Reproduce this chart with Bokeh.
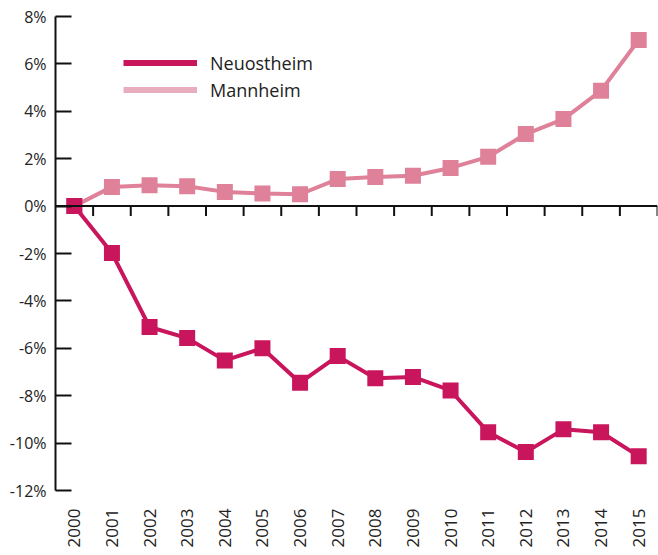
import math
from bokeh.plotting import figure
from bokeh.models import (Range1d, FixedTicker, Span, Legend, LegendItem,
                          CustomJSTickFormatter)
from bokeh.embed import file_html
from bokeh.resources import INLINE

years = list(range(2000, 2016))
neuostheim = [0.0, -1.98, -5.10, -5.57, -6.51, -6.00, -7.45, -6.33,
              -7.26, -7.21, -7.78, -9.54, -10.38, -9.42, -9.54, -10.55]
mannheim = [0.0, 0.81, 0.88, 0.84, 0.60, 0.53, 0.50, 1.14,
            1.23, 1.28, 1.61, 2.08, 3.04, 3.67, 4.87, 7.01]
y_ticks = [-12, -10, -8, -6, -4, -2, 0, 2, 4, 6, 8]

C_NEU = "#c8155c"
C_MAN = "#de8199"
C_MAN_LEG = "#e8aebe"
FONT = "Open Sans"

p = figure(width=658, height=555, output_backend="svg", toolbar_location=None,
           x_range=Range1d(years[0] - 0.5, years[-1] + 0.5),
           y_range=Range1d(y_ticks[0], y_ticks[-1]),
           min_border_left=55, min_border_right=1, min_border_top=16,
           min_border_bottom=65)
p.outline_line_color = None
p.grid.visible = False
p.background_fill_color = "white"
p.border_fill_color = "white"

# y axis
ya = p.yaxis[0]
ya.ticker = FixedTicker(ticks=y_ticks)
ya.formatter = CustomJSTickFormatter(code="return tick + '%';")
ya.major_tick_in = 16
ya.major_tick_out = 0
ya.minor_tick_line_color = None
ya.axis_line_width = 2
ya.major_tick_line_width = 2
ya.axis_line_color = "#111111"
ya.major_tick_line_color = "#111111"
ya.major_label_text_font = FONT
ya.major_label_text_font_size = "16px"
ya.major_label_text_color = "#222222"
ya.major_label_standoff = 9

# x axis: labels only at bottom
xa = p.xaxis[0]
xa.ticker = FixedTicker(ticks=years)
xa.major_label_overrides = {y: str(y) for y in years}
xa.axis_line_color = None
xa.major_tick_line_color = None
xa.minor_tick_line_color = None
xa.major_tick_in = 0
xa.major_tick_out = 0
xa.major_label_orientation = math.pi / 2
xa.major_label_standoff = 18
xa.major_label_text_font = FONT
xa.major_label_text_font_size = "17px"
xa.major_label_text_color = "#222222"

# zero line with tick marks between years
p.add_layout(Span(location=0, dimension="width", line_color="#111111", line_width=2))
tick_x = [y + 0.5 for y in years]
p.segment(x0=tick_x, y0=[0] * len(tick_x), x1=tick_x, y1=[-0.42] * len(tick_x),
          line_color="#111111", line_width=2)

# series
p.line(years, mannheim, line_color=C_MAN, line_width=4)
p.scatter(years, mannheim, marker="square", size=16, fill_color=C_MAN, line_color=None)
p.line(years, neuostheim, line_color=C_NEU, line_width=4)
p.scatter(years, neuostheim, marker="square", size=16, fill_color=C_NEU, line_color=None)

# legend (lines only) - renderers hold a single NaN point so nothing is drawn in the plot
nan = float("nan")
leg_neu = p.line([years[0]], [nan], line_color=C_NEU, line_width=6)
leg_man = p.line([years[0]], [nan], line_color=C_MAN_LEG, line_width=6)
legend = Legend(items=[LegendItem(label="Neuostheim", renderers=[leg_neu], index=0),
                       LegendItem(label="Mannheim", renderers=[leg_man], index=0)],
                location=(68, 387), orientation="vertical")
legend.border_line_color = None
legend.background_fill_alpha = 0
legend.padding = 0
legend.margin = 0
legend.spacing = 0
legend.glyph_width = 74
legend.glyph_height = 27
legend.label_height = 27
legend.label_standoff = 13
legend.label_text_font = FONT
legend.label_text_font_size = "18px"
legend.label_text_color = "#222222"
p.add_layout(legend, "center")

open("out.html", "w").write(file_html(p, INLINE))
